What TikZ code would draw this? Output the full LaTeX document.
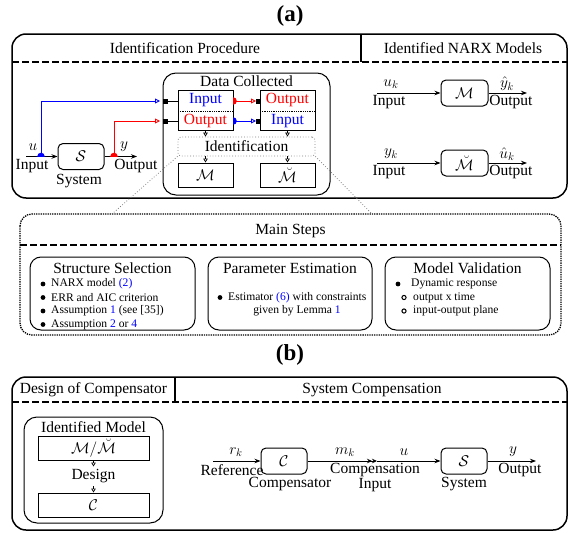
\RequirePackage{fix-cm}
\documentclass[tikz,border=0pt]{standalone}
\usepackage{fontspec}
\setmainfont{Liberation Serif}
\usetikzlibrary{arrows.meta,calc}
\definecolor{refblue}{RGB}{0,0,255}
\begin{document}
\begin{tikzpicture}[x=1pt,y=-1pt,
  big/.style={font=\fontsize{15.5}{18}\selectfont},
  itemfont/.style={font=\fontsize{11.6}{13.5}\selectfont},
  frame/.style={draw, line width=1.5pt, rounded corners=14pt},
  inframe/.style={draw, line width=1pt, rounded corners=11pt},
  hdash/.style={line width=1.2pt, dash pattern=on 7pt off 3pt},
  blk/.style={draw, line width=1pt, rounded corners=5pt, minimum width=46pt, minimum height=26pt, inner sep=0pt, big},
  sqbox/.style={draw, line width=1pt, inner sep=0pt, big},
  sig/.style={line width=0.9pt, -{Stealth[length=6pt,width=4.5pt]}},
  dblsig/.style={line width=0.9pt, -{Stealth[length=5pt,width=4.5pt]Stealth[length=5pt,width=4.5pt]}},
  opentip/.style={line width=0.9pt, -{Triangle[open,length=5pt,width=5pt]}},
  smalltip/.style={line width=0.7pt, -{Triangle[open,length=4pt,width=4.5pt]}},
  lbl/.style={inner sep=0pt, big},
  ttl/.style={inner sep=0pt, font=\bfseries\fontsize{23}{26}\selectfont},
  zoomline/.style={gray, dotted, line width=0.8pt},
]
\useasboundingbox (0,0) rectangle (571,533);

% ---------------- (a) ----------------
\node[ttl] (ta) at (290,16) {(a)};
\draw[frame] (12,34) rectangle (567,198);
\draw[hdash] (12,62) -- (567,62);
\draw[line width=1.2pt] (361,34) -- (361,62);
\node[lbl] (hproc) at (185,48) {Identification Procedure};
\node[lbl] (hnarx) at (463,48) {Identified NARX Models};

% plant used for the experiment
\node[blk] (sys) at (81,156.5) {$\mathcal{S}$};
\coordinate (uin) at (26,156.5);
\coordinate (uj) at (41,156.5);
\coordinate (yj) at (114,156.5);
\coordinate (yout) at (137,156.5);
\draw[sig] (uin) -- (sys.west);
\draw[sig] (sys.east) -- (yout);
\node[lbl] (lu) at (33,147) {$u$};
\node[lbl] (lin) at (32,166) {Input};
\node[lbl] (lsys) at (79,181) {System};
\node[lbl] (ly) at (124,147) {$y$};
\node[lbl] (lout) at (136,166) {Output};

% collected data
\draw[inframe, rounded corners=13pt] (163,73) rectangle (330,195);
\node[lbl] (ldc) at (246.5,81) {Data Collected};
\node[sqbox, minimum width=55pt, minimum height=40pt] (dl) at (205.5,110) {};
\node[sqbox, minimum width=55pt, minimum height=40pt] (dr) at (287.5,110) {};
\draw[densely dotted, line width=0.8pt] (178,111) -- (233,111);
\draw[densely dotted, line width=0.8pt] (260,111) -- (315,111);
\node[lbl, text=refblue] (dlin) at (205.5,100) {Input};
\node[lbl, text=red] (dlout) at (205.5,121) {Output};
\node[lbl, text=red] (drout) at (287.5,100) {Output};
\node[lbl, text=refblue] (drin) at (287.5,121) {Input};

% feeds into the data sets
\coordinate (pa) at (160,101);
\coordinate (pb) at (160,121);
\draw[refblue, opentip] (uj) |- (pa);
\draw[red, opentip] (yj) |- (pb);
\draw[line width=0.9pt] (163,101) -- (dl.west |- pa);
\draw[line width=0.9pt] (163,121) -- (dl.west |- pb);
\fill (163,98.5) rectangle (168,103.5);
\fill (163,118.5) rectangle (168,123.5);

% swapping roles of the signals
\coordinate (qa) at (256,101);
\coordinate (qb) at (256,121);
\draw[red, opentip] (dl.east |- qa) -- (qa);
\draw[refblue, opentip] (dl.east |- qb) -- (qb);
\fill (255.5,98.5) rectangle (260.5,103.5);
\fill (255.5,118.5) rectangle (260.5,123.5);

% junction dots
\begin{scope}
  \clip (35,150) rectangle (47,156.5);
  \fill[refblue] (uj) circle (3.8pt);
\end{scope}
\begin{scope}
  \clip (108,150) rectangle (120,156.5);
  \fill[red] (yj) circle (3.8pt);
\end{scope}
\begin{scope}
  \clip (233,95) rectangle (239,107);
  \fill[red] (233,101) circle (3.8pt);
\end{scope}
\begin{scope}
  \clip (233,115) rectangle (239,127);
  \fill[refblue] (233,121) circle (3.8pt);
\end{scope}

% identification stage
\node[draw=gray, dotted, line width=0.8pt, rounded corners=3pt, minimum width=137pt, minimum height=19pt, inner sep=0pt, big] (ident) at (246.5,146.5) {Identification};
\draw[smalltip] (dl.south) -- (dl.south |- ident.north);
\draw[smalltip] (dr.south) -- (dr.south |- ident.north);
\node[sqbox, minimum width=55pt, minimum height=24pt] (mm) at (205.5,175) {$\mathcal{M}$};
\node[sqbox, minimum width=55pt, minimum height=24pt] (mb) at (287.5,175) {$\breve{\mathcal{M}}$};
\draw[smalltip] (mm.north |- ident.south) -- (mm.north);
\draw[smalltip] (mb.north |- ident.south) -- (mb.north);

% identified models
\node[blk, minimum width=47pt] (nm) at (464.5,93) {$\mathcal{M}$};
\coordinate (nmin) at (377,93);
\coordinate (nmout) at (527,93);
\draw[sig] (nmin) -- (nm.west);
\draw[sig] (nm.east) -- (nmout);
\node[lbl] (luk) at (391,84) {$u_k$};
\node[lbl] (lnin) at (389,102) {Input};
\node[lbl] (lyh) at (507,84) {$\hat{y}_k$};
\node[lbl] (lnout) at (511,102) {Output};

\node[blk, minimum width=47pt] (nb) at (464.5,163) {$\breve{\mathcal{M}}$};
\coordinate (nbin) at (377,163);
\coordinate (nbout) at (527,163);
\draw[sig] (nbin) -- (nb.west);
\draw[sig] (nb.east) -- (nbout);
\node[lbl] (lyk) at (391,154) {$y_k$};
\node[lbl] (lnbin) at (389,172) {Input};
\node[lbl] (luh) at (507,154) {$\hat{u}_k$};
\node[lbl] (lnbout) at (511,172) {Output};

% ---------------- main steps ----------------
\draw[densely dotted, line width=1.3pt, rounded corners=12pt] (20,214) rectangle (561,335);
\draw[hdash] (20,245) -- (561,245);
\node[lbl] (hsteps) at (290.5,231) {Main Steps};
\coordinate (zl) at (112,214);
\coordinate (zr) at (372,214);
\draw[zoomline] (ident.south west) -- (zl);
\draw[zoomline] (ident.south east) -- (zr);

\draw[inframe] (30,257) rectangle (195,330);
\draw[inframe] (208,257) rectangle (372,330);
\draw[inframe] (385,257) rectangle (550,330);
\node[lbl] (tss) at (112.5,268) {Structure Selection};
\node[lbl] (tpe) at (290,268) {Parameter Estimation};
\node[lbl] (tmv) at (467.5,268) {Model Validation};

\foreach \yy in {284,297.5,311,324.5} \fill (43,\yy) circle (2.4pt);
\node[itemfont, anchor=west, inner sep=0pt] (s1) at (51,284) {NARX model {\color{refblue}(2)}};
\node[itemfont, anchor=west, inner sep=0pt] (s2) at (51,297.5) {ERR and AIC criterion};
\node[itemfont, anchor=west, inner sep=0pt] (s3) at (51,311) {Assumption {\color{refblue}1} (see [35])};
\node[itemfont, anchor=west, inner sep=0pt] (s4) at (51,324.5) {Assumption {\color{refblue}2} or {\color{refblue}4}};

\fill (220,297.5) circle (2.4pt);
\node[itemfont, anchor=west, inner sep=0pt] (p1) at (228,297.5) {Estimator {\color{refblue}(6)} with constraints};
\node[itemfont, inner sep=0pt] (p2) at (297,311) {given by Lemma {\color{refblue}1}};

\fill (398,284) circle (2.4pt);
\node[itemfont, anchor=west, inner sep=0pt] (v1) at (411,284) {Dynamic response};
\draw[line width=1pt] (404,297.5) circle (2.1pt);
\draw[line width=1pt] (404,311) circle (2.1pt);
\node[itemfont, anchor=west, inner sep=0pt] (v2) at (413,297.5) {output x time};
\node[itemfont, anchor=west, inner sep=0pt] (v3) at (413,311) {input-output plane};

% ---------------- (b) ----------------
\node[ttl] (tb) at (290,355) {(b)};
\draw[frame] (12,377) rectangle (567,530);
\draw[hdash] (12,402) -- (567,402);
\draw[line width=1.2pt] (175,377) -- (175,402);
\node[lbl] (hdes) at (93.5,390) {Design of Compensator};
\node[lbl] (hcomp) at (372,390) {System Compensation};

\draw[inframe, rounded corners=13pt] (24,417) rectangle (163,523);
\node[lbl] (lim) at (93.5,427) {Identified Model};
\node[sqbox, minimum width=111pt, minimum height=24pt] (mmb) at (93.5,448) {$\mathcal{M}/\breve{\mathcal{M}}$};
\node[lbl] (ldes) at (93.5,476) {Design};
\node[sqbox, minimum width=111pt, minimum height=24pt] (cbx) at (93.5,505) {$\mathcal{C}$};
\draw[smalltip] (mmb.south) -- ++(0,6);
\draw[smalltip] (93.5,486) -- (cbx.north);

% compensated loop
\node[blk] (comp) at (284,461) {$\mathcal{C}$};
\node[blk] (plant) at (464,461) {$\mathcal{S}$};
\coordinate (rin) at (213,461);
\coordinate (ci) at (377,461);
\coordinate (yo) at (536,461);
\draw[sig] (rin) -- (comp.west);
\draw[dblsig] (comp.east) -- (ci);
\draw[sig] (ci) -- (plant.west);
\draw[sig] (plant.east) -- (yo);
\node[lbl] (lrk) at (236,452) {$r_k$};
\node[lbl] (lref) at (232,470) {Reference};
\node[lbl] (lcomp) at (290,484) {Compensator};
\node[lbl] (lmk) at (345,452) {$m_k$};
\node[lbl] (lci) at (375,470) {Compensation};
\node[lbl] (lci2) at (375,485) {Input};
\node[lbl] (lub) at (404,452) {$u$};
\node[lbl] (lsysb) at (464,484) {System};
\node[lbl] (lyb) at (513,452) {$y$};
\node[lbl] (loutb) at (520,470) {Output};
\end{tikzpicture}
\end{document}
